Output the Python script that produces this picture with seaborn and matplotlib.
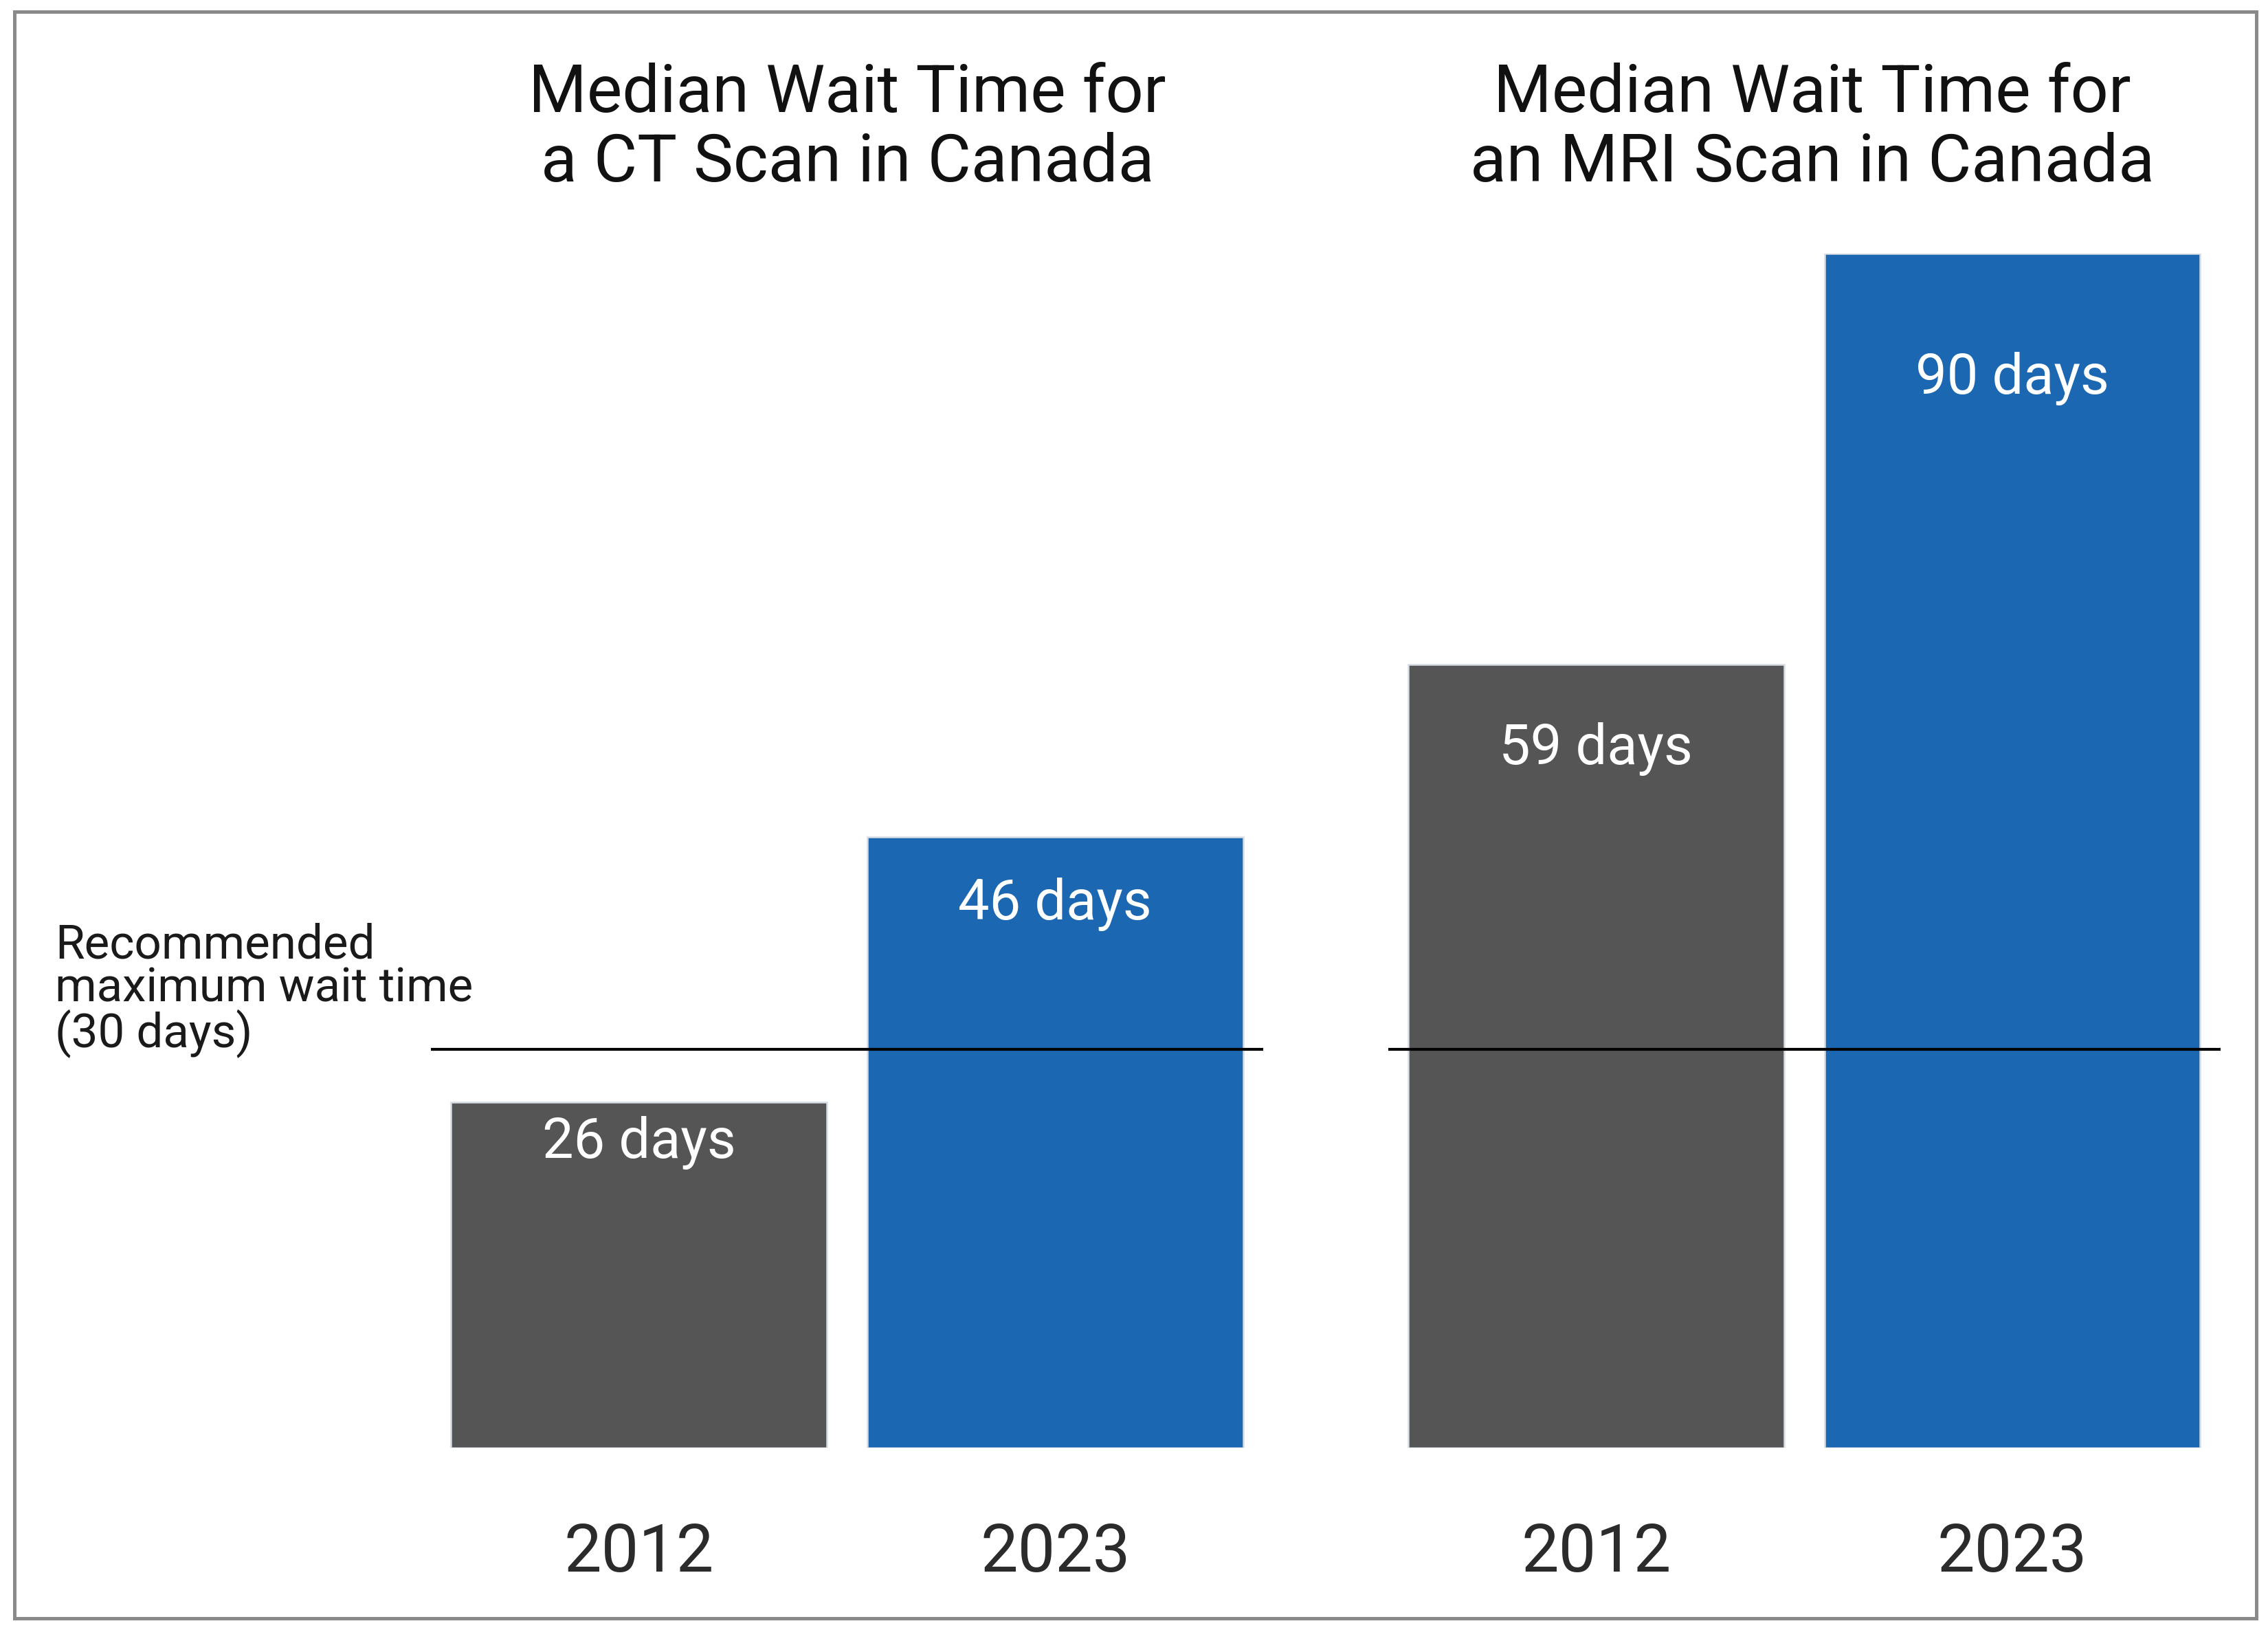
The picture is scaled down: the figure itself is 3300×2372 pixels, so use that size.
import matplotlib
matplotlib.use("Agg")
import matplotlib.pyplot as plt
import matplotlib.transforms as mtransforms
from matplotlib.patches import Rectangle
import pandas as pd
import seaborn as sns

# Data
years = ["2012", "2023"]
ct_days = [26, 46]
mri_days = [59, 90]
recommended_max = 30
panel_titles = ["Median Wait Time for\na CT Scan in Canada",
                "Median Wait Time for\nan MRI Scan in Canada"]
note_text = "Recommended\nmaximum wait time\n(30 days)"

gray = "#545554"
blue = "#1B67B2"

sns.set_theme(style="white")
plt.rcParams['font.family'] = ['Roboto', 'DejaVu Sans']

fig = plt.figure(figsize=(11, 2372 / 300), dpi=300)
ax_ct = fig.add_axes([0.190, 0.1119, 0.367, 0.7327])
ax_mri = fig.add_axes([0.612, 0.1119, 0.367, 0.7327])

for ax, vals in [(ax_ct, ct_days), (ax_mri, mri_days)]:
    df = pd.DataFrame({"year": years, "days": vals})
    sns.barplot(data=df, x="year", y="days", hue="year", palette=[gray, blue],
                legend=False, width=0.903, saturation=1, ax=ax,
                edgecolor="#d6dce4", linewidth=0.6)
    ax.set_xlim(-0.5, 1.5)
    ax.set_ylim(0, 90)
    ax.axhline(recommended_max, color="black", lw=1.0, zorder=5)
    # value labels sit just under the top of each bar
    for i, v in enumerate(vals):
        ax.text(i, v * 0.9 - 0.45, f"{v} days", color="white", ha="center",
                va="center", fontsize=19.5)
    ax.set_xlabel("")
    ax.set_ylabel("")
    ax.set_yticks([])
    ax.tick_params(axis="x", length=0, pad=26, labelsize=23.3, labelcolor="#2b2b2b")
    sns.despine(ax=ax, left=True, bottom=True)
    ax.patch.set_alpha(0)

fig.text(0.3737, 0.921, panel_titles[0], ha="center", va="center",
         fontsize=23.3, color="#111111", linespacing=1.12)
fig.text(0.799, 0.921, panel_titles[1], ha="center", va="center",
         fontsize=23.3, color="#111111", linespacing=1.12)

trans = mtransforms.blended_transform_factory(fig.transFigure, ax_ct.transData)
ax_ct.text(0.0242, recommended_max - 0.6, note_text, transform=trans, ha="left",
           va="bottom", fontsize=16.6, color="#1a1a1a", linespacing=0.94, clip_on=False)

# outer frame
fig.patches.append(Rectangle((0.0064, 0.0071), 0.9885, 0.9858, transform=fig.transFigure,
                             fill=False, edgecolor="#8a8a8a", lw=1.2))

fig.savefig("out.png", dpi=300, facecolor="white")
